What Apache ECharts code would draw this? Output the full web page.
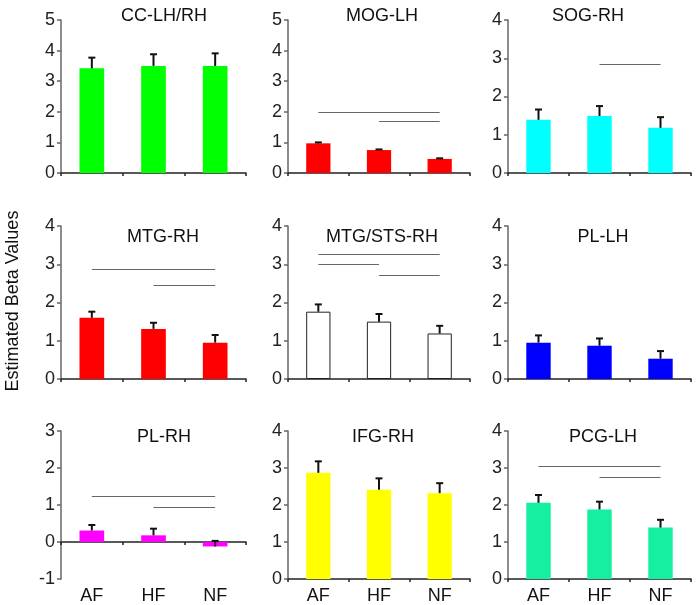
<!DOCTYPE html>
<html>
<head>
<meta charset="utf-8">
<script src="https://cdn.jsdelivr.net/npm/echarts@6/dist/echarts.min.js"></script>
<style>
html,body{margin:0;padding:0;background:#fff;}
#chart{width:696px;height:605px;}
</style>
</head>
<body>
<div id="chart"></div>
<script>
// ---- data ----
const categories = ['AF', 'HF', 'NF'];
const panelTitles = ['CC-LH/RH', 'MOG-LH', 'SOG-RH', 'MTG-RH', 'MTG/STS-RH', 'PL-LH', 'PL-RH', 'IFG-RH', 'PCG-LH'];
const panelColors = ['#00ff00', '#ff0000', '#00ffff', '#ff0000', '#ffffff', '#0000ff', '#ff00ff', '#ffff00', '#14f0a0'];
const yAxisTitle = 'Estimated Beta Values';

const ccMeans = [3.42, 3.50, 3.50];      const ccErrs = [0.35, 0.38, 0.41];
const mogMeans = [0.97, 0.75, 0.46];     const mogErrs = [0.03, 0.02, 0.02];
const sogMeans = [1.39, 1.49, 1.18];     const sogErrs = [0.27, 0.26, 0.28];
const mtgMeans = [1.60, 1.31, 0.95];     const mtgErrs = [0.16, 0.16, 0.20];
const mtgstsMeans = [1.76, 1.50, 1.19];  const mtgstsErrs = [0.19, 0.20, 0.20];
const pllhMeans = [0.95, 0.87, 0.53];    const pllhErrs = [0.19, 0.19, 0.20];
const plrhMeans = [0.31, 0.18, -0.12];   const plrhErrs = [0.15, 0.18, 0.15];
const ifgMeans = [2.87, 2.41, 2.32];     const ifgErrs = [0.31, 0.31, 0.27];
const pcgMeans = [2.06, 1.88, 1.39];     const pcgErrs = [0.21, 0.21, 0.21];

// significance brackets: [fromCategory, toCategory, yValue]
const ccSig = [];
const mogSig = [['AF', 'NF', 2.0], ['HF', 'NF', 1.68]];
const sogSig = [['HF', 'NF', 2.85]];
const mtgSig = [['AF', 'NF', 2.87], ['HF', 'NF', 2.44]];
const mtgstsSig = [['AF', 'NF', 3.27], ['AF', 'HF', 3.0], ['HF', 'NF', 2.70]];
const pllhSig = [];
const plrhSig = [['AF', 'NF', 1.23], ['HF', 'NF', 0.94]];
const ifgSig = [];
const pcgSig = [['AF', 'NF', 3.05], ['HF', 'NF', 2.75]];

const yMins = [0, 0, 0, 0, 0, 0, -1, 0, 0];
const yMaxs = [5, 5, 4, 4, 4, 4, 3, 4, 4];

const allMeans = [ccMeans, mogMeans, sogMeans, mtgMeans, mtgstsMeans, pllhMeans, plrhMeans, ifgMeans, pcgMeans];
const allErrs = [ccErrs, mogErrs, sogErrs, mtgErrs, mtgstsErrs, pllhErrs, plrhErrs, ifgErrs, pcgErrs];
const allSig = [ccSig, mogSig, sogSig, mtgSig, mtgstsSig, pllhSig, plrhSig, ifgSig, pcgSig];

// ---- layout ----
const colLeft = [61, 288, 508];
const colWidth = [185, 182, 183];
const rowTop = [20, 226, 431];
const plotH = 153;
const titlePos = [[159, 12], [377, 12], [583, 12], [158, 233], [377, 233], [598, 233], [159, 433], [378, 433], [598, 433]];

const FONT = '"Liberation Sans", Arial, sans-serif';

const grids = [], xAxes = [], yAxes = [], series = [], titles = [];
for (let p = 0; p < 9; p++) {
  const r = Math.floor(p / 3), c = p % 3;
  grids.push({ left: colLeft[c], top: rowTop[r], width: colWidth[c], height: plotH, containLabel: false });
  xAxes.push({
    type: 'category', gridIndex: p, data: categories, boundaryGap: true,
    axisLine: { onZero: true, lineStyle: { color: '#222', width: 1.5 } },
    axisTick: { show: true, length: 3, inside: false, lineStyle: { color: '#222', width: 1.5 } },
    axisLabel: { show: r === 2, fontFamily: FONT, fontSize: 18, color: '#111', margin: 8 },
    splitLine: { show: false }
  });
  yAxes.push({
    type: 'value', gridIndex: p, min: yMins[p], max: yMaxs[p], interval: 1,
    axisLine: { show: true, onZero: false, lineStyle: { color: '#666', width: 1.5 } },
    axisTick: { show: true, length: 4, lineStyle: { color: '#666', width: 1.5 } },
    axisLabel: { fontFamily: FONT, fontSize: 18, color: '#222', margin: 6 },
    splitLine: { show: false }
  });
  titles.push({
    text: panelTitles[p], left: titlePos[p][0], top: titlePos[p][1] - 10, textAlign: 'center',
    textStyle: { fontFamily: FONT, fontSize: 18, fontWeight: 'normal', color: '#111' }
  });
  const isWhite = panelColors[p] === '#ffffff';
  series.push({
    type: 'bar', xAxisIndex: p, yAxisIndex: p, barWidth: '40%',
    data: allMeans[p],
    itemStyle: { color: panelColors[p], borderColor: isWhite ? '#222' : panelColors[p], borderWidth: isWhite ? 1 : 0 },
    silent: true, animation: false,
    markLine: {
      silent: true, symbol: 'none', animation: false,
      label: { show: false },
      lineStyle: { color: '#666', width: 1.2, type: 'solid' },
      data: allSig[p].map(s => [{ coord: [s[0], s[2]] }, { coord: [s[1], s[2]] }])
    }
  });
  series.push({
    type: 'custom', xAxisIndex: p, yAxisIndex: p, silent: true, animation: false,
    data: allMeans[p].map((m, i) => [i, m, allErrs[p][i]]),
    encode: { x: 0, y: 1 },
    renderItem: function (params, api) {
      const x = api.value(0), m = api.value(1), e = api.value(2);
      const p0 = api.coord([x, m]);
      const p1 = api.coord([x, m + e]);
      const st = { stroke: '#111', lineWidth: 2 };
      return {
        type: 'group', children: [
          { type: 'line', shape: { x1: p0[0], y1: p0[1], x2: p1[0], y2: p1[1] }, style: st },
          { type: 'line', shape: { x1: p1[0] - 3.5, y1: p1[1], x2: p1[0] + 3.5, y2: p1[1] }, style: st }
        ]
      };
    },
    z: 3
  });
}

const chart = echarts.init(document.getElementById('chart'), null, { renderer: 'canvas' });
chart.setOption({
  backgroundColor: '#fff',
  animation: false,
  title: titles,
  grid: grids, xAxis: xAxes, yAxis: yAxes, series: series,
  graphic: [{
    type: 'text', x: 13, y: 301, rotation: Math.PI / 2,
    style: { text: yAxisTitle, font: '18px ' + FONT, fill: '#111', textAlign: 'center', textVerticalAlign: 'middle' }
  }]
});
</script>
</body>
</html>
